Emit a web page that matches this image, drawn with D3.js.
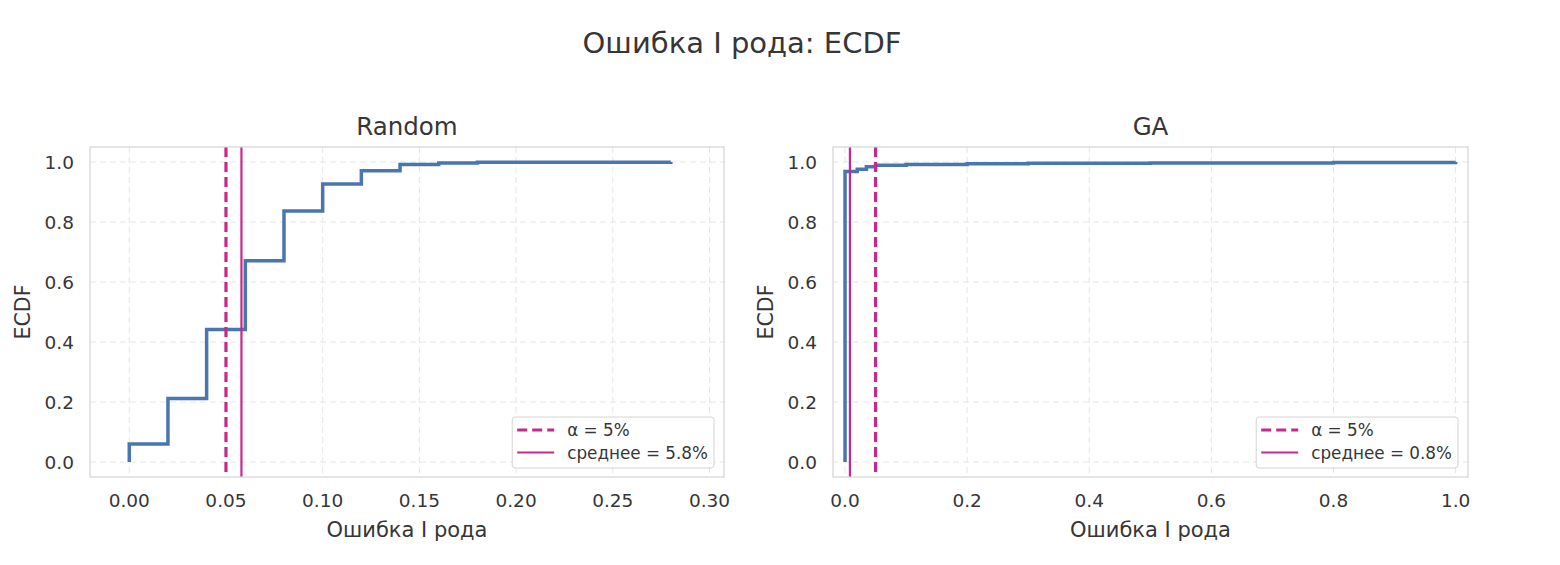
<!DOCTYPE html>
<html>
<head>
<meta charset="utf-8">
<script src="https://cdn.jsdelivr.net/npm/d3@7"></script>
<style>
  body { margin: 0; background: #fff; }
  text { font-family: "DejaVu Sans", sans-serif; fill: #363636; }
</style>
</head>
<body>
<div class="canvas"></div>
<script>
// ECDF step points
const randomX = [0, 0, 0.02, 0.04, 0.06, 0.08, 0.10, 0.12, 0.14, 0.16, 0.18, 0.28];
const randomEcdf = [0, 0.06, 0.212, 0.442, 0.671, 0.837, 0.927, 0.971, 0.992, 0.997, 0.999, 1.0];
const gaX = [0, 0, 0.02, 0.035, 0.05, 0.1, 0.2, 0.3, 0.5, 0.8, 1.0];
const gaEcdf = [0, 0.968, 0.976, 0.984, 0.989, 0.992, 0.994, 0.996, 0.997, 0.998, 1.0];
const alphaLevel = 0.05;
const means = [0.058, 0.008];
const panelTitles = ["Random", "GA"];
const xTicks = [[0, 0.05, 0.10, 0.15, 0.20, 0.25, 0.30], [0, 0.2, 0.4, 0.6, 0.8, 1.0]];
const yTicks = [0, 0.2, 0.4, 0.6, 0.8, 1.0];

const dims = { width: 1560, height: 565, top: 147, bottom: 477 };
const panels = [
  { left: 90, right: 724, domain: [-0.0203, 0.3075], fmt: ".2f", xs: randomX, ys: randomEcdf },
  { left: 833, right: 1468, domain: [-0.0197, 1.0203], fmt: ".1f", xs: gaX, ys: gaEcdf }
];
const blue = "#4a76b0";
const pink = "#c42a8a";

const svg = d3.select(".canvas").append("svg")
  .attr("width", dims.width)
  .attr("height", dims.height);

svg.append("text")
  .attr("x", 742).attr("y", 53)
  .attr("text-anchor", "middle")
  .style("font-size", "29px")
  .text("Ошибка I рода: ECDF");

const y = d3.scaleLinear().domain([-0.05, 1.05]).range([dims.bottom, dims.top]);

panels.forEach((p, i) => {
  const x = d3.scaleLinear().domain(p.domain).range([p.left, p.right]);
  const g = svg.append("g");

  // grid
  g.selectAll(".gx").data(xTicks[i]).enter().append("line")
    .attr("x1", d => x(d)).attr("x2", d => x(d))
    .attr("y1", dims.top).attr("y2", dims.bottom)
    .attr("stroke", "#e6e6e6").attr("stroke-dasharray", "6,4");
  g.selectAll(".gy").data(yTicks).enter().append("line")
    .attr("x1", p.left).attr("x2", p.right)
    .attr("y1", d => y(d)).attr("y2", d => y(d))
    .attr("stroke", "#e6e6e6").attr("stroke-dasharray", "6,4");

  // tick labels
  g.selectAll(".tx").data(xTicks[i]).enter().append("text")
    .attr("x", d => x(d)).attr("y", 507)
    .attr("text-anchor", "middle")
    .style("font-size", "18.5px")
    .text(d => d3.format(p.fmt)(d));
  g.selectAll(".ty").data(yTicks).enter().append("text")
    .attr("x", p.left - 16).attr("y", d => y(d) + 6.5)
    .attr("text-anchor", "end")
    .style("font-size", "18.5px")
    .text(d => d3.format(".1f")(d));

  // axis labels and title
  g.append("text")
    .attr("x", (p.left + p.right) / 2).attr("y", 537)
    .attr("text-anchor", "middle")
    .style("font-size", "21px")
    .text("Ошибка I рода");
  g.append("text")
    .attr("transform", `translate(${p.left - 60},${(dims.top + dims.bottom) / 2}) rotate(-90)`)
    .attr("text-anchor", "middle")
    .style("font-size", "20.5px")
    .text("ECDF");
  g.append("text")
    .attr("x", (p.left + p.right) / 2).attr("y", 135)
    .attr("text-anchor", "middle")
    .style("font-size", "24.5px")
    .text(panelTitles[i]);

  // ecdf
  const line = d3.line()
    .x((d, k) => x(p.xs[k]))
    .y(d => y(d))
    .curve(d3.curveStepAfter);
  g.append("path")
    .attr("d", line(p.ys))
    .attr("fill", "none")
    .attr("stroke", blue)
    .attr("stroke-width", 3.5);

  // reference lines
  g.append("line")
    .attr("x1", x(alphaLevel)).attr("x2", x(alphaLevel))
    .attr("y1", dims.top).attr("y2", dims.bottom)
    .attr("stroke", pink).attr("stroke-width", 3.2)
    .attr("stroke-dasharray", "10,5");
  g.append("line")
    .attr("x1", x(means[i])).attr("x2", x(means[i]))
    .attr("y1", dims.top).attr("y2", dims.bottom)
    .attr("stroke", pink).attr("stroke-width", 2.2);

  // frame
  g.append("rect")
    .attr("x", p.left).attr("y", dims.top)
    .attr("width", p.right - p.left).attr("height", dims.bottom - dims.top)
    .attr("fill", "none").attr("stroke", "#d4d4d4").attr("stroke-width", 1.2);

  // legend
  const labels = ["α = 5%", `среднее = ${d3.format(".1f")(means[i] * 100)}%`];
  const lg = g.append("g");
  const box = lg.append("rect")
    .attr("fill", "#fff").attr("fill-opacity", 0.85)
    .attr("stroke", "#d4d4d4").attr("rx", 3);
  const items = lg.selectAll(".item").data(labels).enter().append("g")
    .attr("transform", (d, k) => `translate(0,${k * 22.5})`);
  items.append("line")
    .attr("x1", 5).attr("x2", 42).attr("y1", 0).attr("y2", 0)
    .attr("stroke", pink)
    .attr("stroke-width", (d, k) => k === 0 ? 3.2 : 2.2)
    .attr("stroke-dasharray", (d, k) => k === 0 ? "10,5" : null);
  items.append("text")
    .attr("x", 55).attr("y", 6)
    .style("font-size", "16.8px")
    .text(d => d);
  const tw = d3.max(items.selectAll("text").nodes(), n => n.getComputedTextLength());
  const bw = 55 + tw + 6;
  box.attr("x", 0).attr("y", -13).attr("width", bw).attr("height", 51);
  lg.attr("transform", `translate(${p.right - 10 - bw},${dims.bottom - 9 - 38})`);
});
</script>
</body>
</html>
